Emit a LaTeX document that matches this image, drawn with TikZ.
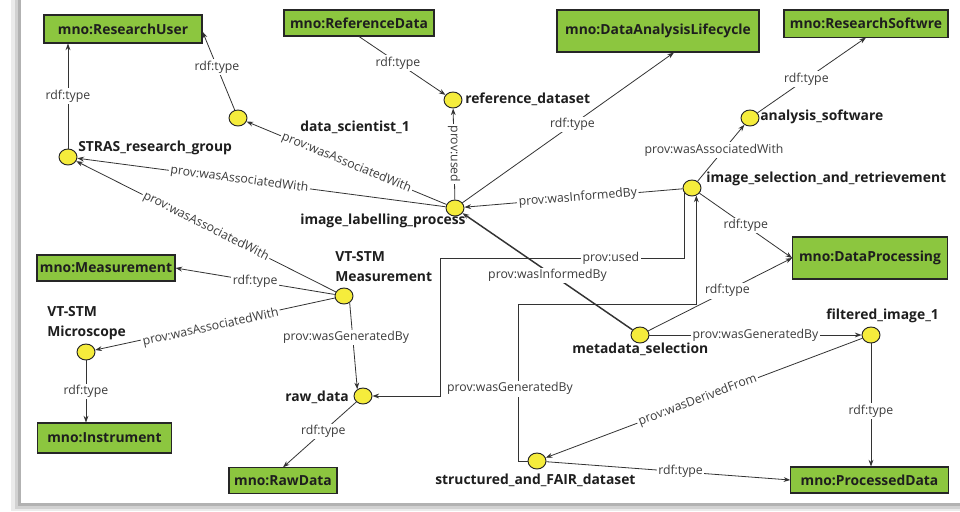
\documentclass[tikz,border=0pt]{standalone}
\usepackage{fontspec}
\setmainfont{Open Sans}
\usepackage{tikz}
\usetikzlibrary{arrows.meta,shapes.geometric}

\definecolor{clsgreen}{HTML}{8CC63F}
\definecolor{resyellow}{HTML}{F5EC3C}
\definecolor{nmblack}{HTML}{1E1E1E}
\definecolor{relgray}{HTML}{3C3C3C}

\begin{document}
\begin{tikzpicture}[x=0.75pt,y=-0.75pt,
  cls/.style={draw=black!85, fill=clsgreen, line width=0.8pt, text=nmblack,
    font=\bfseries\fontsize{10.4}{12}\selectfont, inner sep=0pt},
  res/.style={ellipse, draw=black!85, fill=resyellow, line width=0.7pt,
    minimum width=13.5pt, minimum height=12pt, inner sep=0pt},
  nm/.style={anchor=west, inner sep=0pt, text=nmblack, align=left,
    font=\bfseries\fontsize{10.4}{15}\selectfont},
  rel/.style={fill=white, inner sep=1.2pt, text=relgray,
    font=\fontsize{9.2}{11}\selectfont},
  link/.style={draw=black!80, line width=0.6pt, -{Stealth[length=5pt,width=3.6pt]}}]

\useasboundingbox (0,0) rectangle (960,511);
% page shadow
\fill[black!8]  (11,0) rectangle (960,511);
\fill[black!18] (15,0) rectangle (960,509);
\fill[black!30] (18,0) rectangle (960,506);
\fill[white]    (21,0) rectangle (960,503);

% classes
\node[cls, minimum width=118.5pt, minimum height=21pt]   (ru)  at (123,29)    {mno:ResearchUser};
\node[cls, minimum width=112.5pt, minimum height=19.5pt] (rd)  at (359,23)    {mno:ReferenceData};
\node[cls, minimum width=151.5pt, minimum height=31.5pt] (dal) at (658,31)    {mno:DataAnalysisLifecycle};
\node[cls, minimum width=123pt,   minimum height=20.3pt] (rs)  at (866,23.5)  {mno:ResearchSoftwre};
\node[cls, minimum width=116pt,   minimum height=31.5pt] (dp)  at (870,258)   {mno:DataProcessing};
\node[cls, minimum width=103.5pt, minimum height=19.5pt] (ms)  at (106,268)   {mno:Measurement};
\node[cls, minimum width=101pt,   minimum height=22.5pt] (ins) at (104.5,438) {mno:Instrument};
\node[cls, minimum width=81pt,    minimum height=19pt]   (rwd) at (283,480.5) {mno:RawData};
\node[cls, minimum width=118pt,   minimum height=19.5pt] (pd)  at (869.5,480) {mno:ProcessedData};

% resources
\node[res] (st)  at (68,157)  {};
\node[res] (ds)  at (238,118) {};
\node[res] (ref) at (453,100) {};
\node[res] (ilp) at (455,208) {};
\node[res] (as)  at (750,118) {};
\node[res] (isr) at (692,188) {};
\node[res] (vtm) at (344,296) {};
\node[res] (mic) at (86,352)  {};
\node[res] (raw) at (363,396) {};
\node[res] (mds) at (640,335) {};
\node[res] (fi)  at (871,335) {};
\node[res] (sfd) at (537,461) {};

\node[nm] (st-t)  at (78,148)  {STRAS\_research\_group};
\node[nm] (ds-t)  at (300,127) {data\_scientist\_1};
\node[nm] (ref-t) at (465,99)  {reference\_dataset};
\node[nm] (ilp-t) at (300,221) {image\_labelling\_process};
\node[nm] (as-t)  at (760,117) {analysis\_software};
\node[nm] (isr-t) at (706,179) {image\_selection\_and\_retrievement};
\node[nm] (vtm-t) at (335,267) {VT-STM\\Measurement};
\node[nm] (mic-t) at (47,323)  {VT-STM\\Microscope};
\node[nm] (raw-t) at (285,397) {raw\_data};
\node[nm] (mds-t) at (572,349) {metadata\_selection};
\node[nm] (fi-t)  at (826,316) {filtered\_image\_1};
\node[nm] (sfd-t) at (435,480) {structured\_and\_FAIR\_dataset};

\coordinate (usedx) at (440,258);
\coordinate (genx)  at (518,304);

% rdf:type
\draw[link] (st) -- (st |- ru.south) node[rel, pos=0.5] {rdf:type};
\draw[link] (ds) -- ([yshift=-2pt]ru.east) node[rel, pos=0.55] {rdf:type};
\draw[link] (rd.south) -- (ref) node[rel, pos=0.45] {rdf:type};
\draw[link] (ilp) -- ([xshift=12pt]dal.south) node[rel, pos=0.52] {rdf:type};
\draw[link] (as) -- (rs.south) node[rel, pos=0.45] {rdf:type};
\draw[link] (isr) -- (dp.west) node[rel, pos=0.5] {rdf:type};
\draw[link] (mds) -- (dp.west) node[rel, pos=0.55] {rdf:type};
\draw[link] (vtm) -- (ms.east) node[rel, pos=0.5] {rdf:type};
\draw[link] (mic) -- (ins.north -| mic) node[rel, pos=0.5] {rdf:type};
\draw[link] (raw) -- (rwd.north) node[rel, pos=0.45] {rdf:type};
\draw[link] (fi) -- (fi |- pd.north) node[rel, pos=0.55] {rdf:type};
\draw[link] (sfd) -- (pd.west) node[rel, pos=0.55] {rdf:type};

% prov
\draw[link] (ilp) -- (ds) node[rel, sloped, pos=0.5] {prov:wasAssociatedWith};
\draw[link] (ilp) -- (st) node[rel, sloped, pos=0.56] {prov:wasAssociatedWith};
\draw[link] (ilp) -- (ref) node[rel, rotate=-90, pos=0.5] {prov:used};
\draw[link] (vtm) -- (st) node[rel, sloped, pos=0.5] {prov:wasAssociatedWith};
\draw[link] (vtm) -- (mic) node[rel, sloped, pos=0.52, yshift=-2pt] {prov:wasAssociatedWith};
\draw[link] (vtm.-50) -- (raw.130) node[rel, pos=0.4, xshift=-5pt] {prov:wasGeneratedBy};
\draw[link] (isr) -- (ilp) node[rel, sloped, pos=0.48] {prov:wasInformedBy};
\draw[link, line width=1.1pt] (mds) -- (ilp) node[rel, pos=0.5, yshift=-3pt] {prov:wasInformedBy};
\draw[link] (isr) -- (as) node[rel, pos=0.55, xshift=-7pt] {prov:wasAssociatedWith};
\draw[link] (mds) -- (fi) node[rel, pos=0.5] {prov:wasGeneratedBy};
\draw[link] (fi) -- (sfd) node[rel, sloped, pos=0.52] {prov:wasDerivedFrom};
\draw[link] (isr.-150) |- node[rel, pos=0.65] {prov:used} (usedx) |- (raw);
\draw[link] (sfd.west) -| node[rel, pos=0.73, xshift=-6pt] {prov:wasGeneratedBy} (genx) -| (isr.-60);

\end{tikzpicture}
\end{document}
